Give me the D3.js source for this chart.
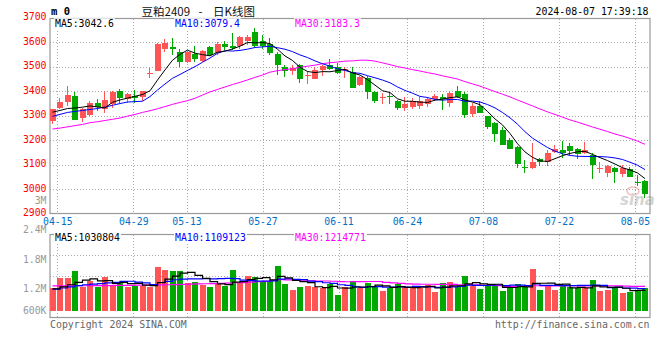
<!DOCTYPE html>
<html><head><meta charset="utf-8">
<script src="https://cdn.jsdelivr.net/npm/d3@7"></script>
<style>
html,body{margin:0;padding:0;background:#fff;}
svg{display:block;}
</style></head><body>
<svg id="c" width="660" height="360"></svg>
<script>
// ---------------- DATA ----------------
const dates = ["04-12","04-15","04-16","04-17","04-18","04-19","04-22","04-23","04-24","04-25","04-26","04-29","04-30",
"05-06","05-07","05-08","05-09","05-10","05-13","05-14","05-15","05-16","05-17","05-20","05-21","05-22","05-23","05-24",
"05-27","05-28","05-29","05-30","05-31","06-03","06-04","06-05","06-06","06-07","06-11","06-12","06-13","06-14",
"06-17","06-18","06-19","06-20","06-21","06-24","06-25","06-26","06-27","06-28","07-01","07-02","07-03","07-04","07-05",
"07-08","07-09","07-10","07-11","07-12","07-15","07-16","07-17","07-18","07-19","07-22","07-23","07-24","07-25","07-26",
"07-29","07-30","07-31","08-01","08-02","08-05","08-06","08-07"];

const open  = [3280,3333,3355,3381,3290,3303,3353,3327,3349,3402,3369,3380,3379,3472,3485,3573,3582,3561,3519,3551,
3524,3580,3556,3593,3587,3586,3608,3643,3604,3592,3554,3498,3483,3508,3462,3452,3487,3506,3499,3487,
3481,3426,3456,3399,3371,3381,3361,3334,3338,3342,3347,3370,3377,3351,3401,3389,3306,3340,3299,3271,
3243,3203,3173,3092,3088,3123,3112,3154,3161,3178,3164,3147,3141,3083,3065,3088,3061,3082,3029,3035];
const high  = [3330,3374,3423,3399,3331,3362,3369,3401,3400,3410,3395,3407,3403,3495,3596,3614,3618,3573,3565,3585,
3571,3585,3601,3605,3638,3628,3631,3658,3630,3620,3560,3508,3506,3514,3485,3500,3508,3533,3518,3498,
3498,3463,3462,3401,3392,3399,3363,3378,3374,3378,3378,3388,3389,3402,3422,3397,3351,3360,3301,3276,
3253,3208,3178,3120,3190,3127,3160,3181,3199,3188,3167,3192,3147,3112,3099,3092,3099,3090,3060,3037];
const low   = [3266,3330,3340,3282,3276,3300,3320,3313,3332,3354,3352,3352,3362,3453,3484,3562,3548,3499,3515,3519,
3521,3546,3548,3568,3569,3575,3590,3583,3575,3548,3467,3460,3467,3436,3430,3450,3463,3487,3472,3453,
3414,3422,3370,3351,3349,3350,3324,3320,3330,3330,3335,3360,3324,3337,3375,3290,3297,3310,3245,3195,
3180,3163,3088,3068,3082,3093,3097,3148,3127,3142,3125,3145,3042,3065,3051,3027,3048,3048,3015,2963];
const close = [3327,3357,3385,3283,3326,3351,3337,3365,3398,3374,3389,3374,3401,3474,3594,3596,3572,3520,3561,3532,
3566,3548,3593,3583,3577,3623,3623,3587,3587,3557,3508,3485,3495,3449,3469,3487,3504,3492,3475,3492,
3415,3460,3399,3362,3378,3377,3333,3349,3361,3361,3369,3381,3368,3393,3377,3304,3340,3313,3256,3224,
3181,3165,3105,3088,3113,3110,3150,3164,3150,3158,3143,3161,3099,3086,3097,3072,3086,3052,3027,2980];
const volume = [1160000,1650000,1650000,1980000,1190000,1470000,1190000,1680000,1290000,1440000,
1190000,1240000,1240000,1190000,2180000,2050000,1980000,1980000,1390000,1440000,
1290000,1190000,1390000,1240000,2050000,1390000,1730000,1680000,1440000,1490000,
2230000,1350000,1040000,1190000,1240000,1190000,1140000,1340000,790000,1190000,
1490000,1140000,1400000,1190000,990000,1140000,1320000,1190000,1140000,1140000,
1290000,940000,1400000,1440000,1190000,1750000,1240000,1110000,1290000,1240000,
990000,1190000,1350000,1190000,2100000,1040000,1240000,1040000,1240000,1190000,
1140000,1140000,1530000,990000,1040000,1190000,890000,940000,1040000,1140000];

// moving-average values at the left edge (earlier days are off-chart)
const ma5Head  = [3315,3322,3330,3332];
const ma10Head = [3298,3306,3314,3318,3322,3326,3330,3336,3343];
const ma30Head = [3246,3250,3255,3260,3265,3272,3276,3281,3286,3291,3299,3306,3314,3321,3329,3338,3347,3355,3362,3372,
3385,3398,3408,3418,3428,3437,3447,3457,3467];
const vma5Head  = [1100000,1200000,1300000,1420000];
const vma10Head = [1080000,1140000,1200000,1260000,1300000,1330000,1360000,1390000,1420000];
const vma30Head = [1240000,1240000,1250000,1250000,1250000,1260000,1260000,1260000,1270000,1270000,1270000,1280000,1280000,1280000,
1290000,1300000,1310000,1320000,1330000,1340000,1350000,1360000,1370000,1380000,1400000,1410000,1430000,1450000,1470000];

const priceTicks = [3700,3600,3500,3400,3300,3200,3100,3000,2900];
const priceGrid  = [3600,3500,3400,3300,3200,3100,3000];
const volTickValues = [2400000,1800000,1200000,600000];
const volTickLabels = ["2.4M","1.8M","1.2M","600K"];
const dateTicks = ["04-15","04-29","05-13","05-27","06-11","06-24","07-08","07-22","08-05"];
const maLegend  = ["MA5:3042.6","MA10:3079.4","MA30:3183.3"];
const volLegend = ["MA5:1030804","MA10:1109123","MA30:1214771"];
const maColors  = ["#000000","#0000ff","#ff00ff"];
const titleText = ["豆粕2409","-","日K线图"];
const codeText = "m 0";
const timeText = "2024-08-07 17:39:18";

// ---------------- CHART ----------------
const MONO = "'DejaVu Sans Mono', monospace";
const RED = "#ff5555", GREEN = "#00a800";
const svg = d3.select("#c");
const L = 50, R = 650, T = 18.5, B = 213.5, VT = 234.5, VB = 317.5;

const x = d3.scaleBand().domain(dates).range([48.75, 648.75]);
const cx = d => x(d) + x.bandwidth() / 2;
const tickX = d3.scaleLinear().domain([0, dates.length - 1]).range([49.7, 650.1]);
const y = d3.scaleLinear().domain([2900, 3700]).range([213.7, 18]);
const yv = d3.scaleLinear().domain([0, 3800000]).range([311, 234.3]);
const vLab = d3.scaleLinear().domain([1200000, 2400000]).range([292, 233.3]);
const vGrid = d3.scaleLinear().domain([0, 1]).range([VT, VB]);

const crisp = v => Math.round(v) + 0.5;

function movingAvg(vals, n, head) {
  return vals.map((v, i) => i < n - 1 ? head[i] : d3.mean(vals.slice(i - n + 1, i + 1)));
}

// grid
const grid = svg.append("g").attr("stroke", "#aaa").attr("stroke-dasharray", "1,2")
  .attr("shape-rendering", "crispEdges");
grid.selectAll(".hg").data(priceGrid).join("line")
  .attr("x1", L).attr("x2", R).attr("y1", d => crisp(y(d))).attr("y2", d => crisp(y(d)));
const tickIdx = dateTicks.map(d => dates.indexOf(d));
grid.selectAll(".vg").data(tickIdx).join("line")
  .attr("x1", d => crisp(tickX(d))).attr("x2", d => crisp(tickX(d))).attr("y1", T).attr("y2", B);
grid.selectAll(".vg2").data(tickIdx).join("line")
  .attr("x1", d => crisp(tickX(d))).attr("x2", d => crisp(tickX(d))).attr("y1", VT).attr("y2", VB);
grid.selectAll(".vh").data([0.25, 0.5]).join("line")
  .attr("x1", L).attr("x2", R).attr("y1", d => crisp(vGrid(d))).attr("y2", d => crisp(vGrid(d)));

// frames
svg.append("rect").attr("x", L).attr("y", T).attr("width", R - L).attr("height", B - T)
  .attr("fill", "none").attr("stroke", "#999").attr("stroke-width", 1.2);
svg.append("rect").attr("x", L).attr("y", VT).attr("width", R - L).attr("height", VB - VT)
  .attr("fill", "none").attr("stroke", "#999").attr("stroke-width", 1.2);

// candles
const idx = d3.range(dates.length);
const colorOf = i => close[i] > open[i] ? RED : GREEN;
const cg = svg.append("g").attr("shape-rendering", "crispEdges");
cg.selectAll(".wick").data(idx).join("line")
  .attr("x1", i => Math.round(cx(dates[i]) - 3) + 2.5).attr("x2", i => Math.round(cx(dates[i]) - 3) + 2.5)
  .attr("y1", i => y(high[i])).attr("y2", i => y(low[i]))
  .attr("stroke", colorOf).attr("stroke-width", 1);
cg.selectAll(".body").data(idx).join("rect")
  .attr("x", i => Math.round(cx(dates[i]) - 3)).attr("width", 6)
  .attr("y", i => y(Math.max(open[i], close[i])))
  .attr("height", i => Math.max(1, y(Math.min(open[i], close[i])) - y(Math.max(open[i], close[i]))))
  .attr("fill", colorOf);

// volume bars
cg.selectAll(".vol").data(idx).join("rect")
  .attr("x", i => Math.round(cx(dates[i]) - 3)).attr("width", 6)
  .attr("y", i => yv(volume[i])).attr("height", i => yv(0) - yv(volume[i]))
  .attr("fill", colorOf);

// MA lines
const pMA = [movingAvg(close, 5, ma5Head), movingAvg(close, 10, ma10Head), movingAvg(close, 30, ma30Head)];
const vMA = [movingAvg(volume, 5, vma5Head), movingAvg(volume, 10, vma10Head), movingAvg(volume, 30, vma30Head)];
const lineP = d3.line().x((d, i) => cx(dates[i])).y(d => y(d));
const lineV = d3.line().x((d, i) => cx(dates[i])).y(d => yv(d)).curve(d3.curveStepAfter);
[2, 1, 0].forEach(k => {
  svg.append("path").attr("d", lineP(pMA[k])).attr("fill", "none").attr("stroke", maColors[k]).attr("stroke-width", 1);
});
[2, 1, 0].forEach(k => {
  svg.append("path").attr("d", lineV(vMA[k])).attr("fill", "none").attr("stroke", maColors[k]).attr("stroke-width", 1.2);
});

// legends
function legend(texts, by) {
  const g = svg.append("g").attr("font-family", MONO).attr("font-size", "9.8px");
  const xs = [55, 175, 295];
  texts.forEach((t, k) => {
    const bg = g.append("rect").attr("fill", "#fff");
    const tx = g.append("text").attr("x", xs[k]).attr("y", by).attr("fill", maColors[k]).text(t);
    const bb = tx.node().getBBox();
    bg.attr("x", bb.x - 1).attr("y", bb.y).attr("width", bb.width + 2).attr("height", bb.height);
  });
}
legend(maLegend, 27.3);
legend(volLegend, 241);

// price axis labels
const yAxis = d3.axisLeft(y).tickValues(priceTicks).tickSize(0).tickPadding(0).tickFormat(d3.format("d"));
const ya = svg.append("g").attr("transform", "translate(46.5,0)").call(yAxis);
ya.select(".domain").remove();
ya.attr("font-family", MONO).attr("font-size", "9.8px");
ya.selectAll("text").attr("fill", "#ff0000").attr("dy", "0.2em");

// volume axis labels
svg.append("g").attr("font-family", MONO).attr("font-size", "9.8px").attr("fill", "#999").attr("text-anchor", "end")
  .selectAll("text").data(volTickValues).join("text")
  .attr("x", 46.5).attr("y", d => Math.min(vLab(d), 313.7)).text((d, i) => volTickLabels[i]);
svg.append("text").attr("x", 46.5).attr("y", 203.7).attr("text-anchor", "end").attr("font-family", MONO)
  .attr("font-size", "9.8px").attr("fill", "#999").text("3M");

// time axis
const xAxis = d3.axisBottom(tickX).tickValues(tickIdx).tickFormat(i => dates[i]).tickSize(0);
const xa = svg.append("g").attr("transform", `translate(0,${B})`).call(xAxis);
xa.select(".domain").remove();
xa.attr("font-family", MONO).attr("font-size", "9.8px");
xa.selectAll("text").attr("fill", "#0070c8").attr("y", 11.5).attr("dy", null);

// header
svg.append("text").attr("x", 51).attr("y", 15).attr("font-family", MONO).attr("font-weight", "bold")
  .attr("font-size", "10.5px").attr("fill", "#000").text(codeText);
const tg = svg.append("g").attr("font-family", "'Noto Sans CJK SC', sans-serif").attr("font-size", "11.5px").attr("fill", "#111");
tg.append("text").attr("x", 141.5).attr("y", 15.5).text(titleText[0]);
tg.append("text").attr("x", 200.5).attr("y", 15.5).attr("text-anchor", "middle").text(titleText[1]);
tg.append("text").attr("x", 213).attr("y", 15.5).text(titleText[2]);
svg.append("text").attr("x", 648.5).attr("y", 15).attr("text-anchor", "end").attr("font-family", MONO)
  .attr("font-size", "9.9px").attr("fill", "#000").text(timeText);

// watermark
const wm = svg.append("g").attr("opacity", 0.35);
wm.append("ellipse").attr("cx", 633).attr("cy", 191).attr("rx", 6).attr("ry", 4).attr("fill", "none").attr("stroke", "#e05050").attr("stroke-width", 1.5);
wm.append("text").attr("x", 620).attr("y", 205).attr("font-family", "'DejaVu Sans', sans-serif").attr("font-style", "italic")
  .attr("font-weight", "bold").attr("font-size", "15px").attr("fill", "#888").text("sina");

// footer
svg.append("text").attr("x", 50).attr("y", 327.5).attr("font-family", MONO).attr("font-size", "9.9px")
  .attr("fill", "#666").text("Copyright 2024 SINA.COM");
svg.append("text").attr("x", 649.5).attr("y", 327.5).attr("text-anchor", "end").attr("font-family", MONO)
  .attr("font-size", "9.9px").attr("fill", "#666").text("http://finance.sina.com.cn");
</script>
</body></html>
